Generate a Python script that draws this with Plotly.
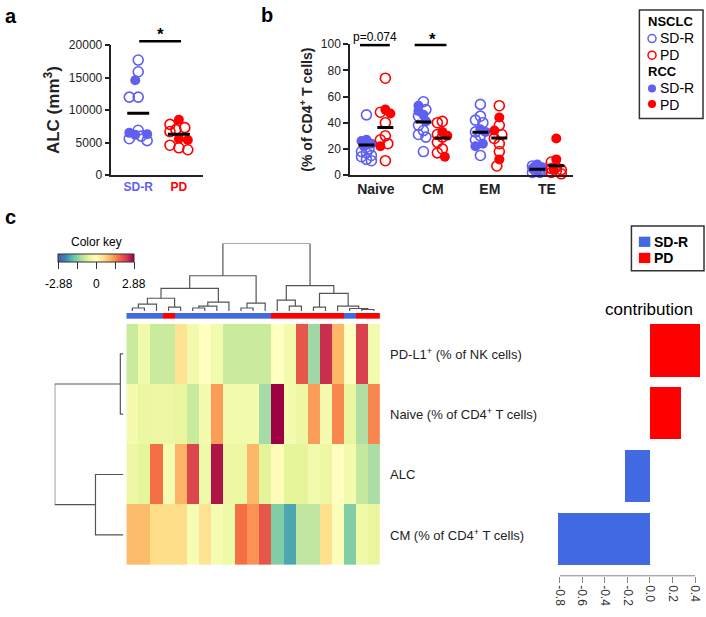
import numpy as np
import plotly.graph_objects as go

W, H = 706, 617

# ---------------- data ----------------
# panel a: ALC (mm3)
alc_sdr_nsclc = [17700, 15900, 12000, 12000, 6900, 6000, 5600, 5300]
alc_sdr_rcc = [14600, 6500, 6300, 6200]
alc_pd_nsclc = [7800, 7300, 7000, 6700, 4600, 4200, 3900]
alc_pd_rcc = [8500, 5600, 5400]
alc_means = [9500, 6300]
alc_ticks = [0, 5000, 10000, 15000, 20000]

# panel b: % of CD4+ T cells
subsets = ["Naive", "CM", "EM", "TE"]
sdr_nsclc = [[46, 20, 18, 17, 15, 14, 12, 11],
             [56, 50, 45, 38, 34, 31, 29, 18],
             [54, 45, 42, 40, 33, 30, 27, 15],
             [7, 6, 5, 4, 4, 3, 2, 2]]
sdr_rcc = [[27, 26, 24, 22],
           [53, 49, 46, 41],
           [35, 33, 24, 22],
           [8, 6, 5, 3]]
pd_nsclc = [[74, 48, 40, 30, 27, 24, 11],
            [41, 40, 31, 29, 25, 20, 17],
            [53, 38, 31, 28, 24, 18, 7],
            [10, 6, 5, 4, 3, 2, 1]]
pd_rcc = [[50, 47, 22],
          [33, 30, 14],
          [44, 34, 12],
          [28, 12, 4]]
sdr_means = [23, 40.6, 32.7, 4.5]
pd_means = [36.4, 28.4, 28.4, 7.2]

# panel c: heatmap (z-scores), columns in dendrogram order
features = ["PD-L1<sup>+</sup> (% of NK cells)", "Naive (% of CD4<sup>+</sup> T cells)",
            "ALC", "CM (% of CD4<sup>+</sup> T cells)"]
z_pdl1 = [-0.85, -0.3, -0.85, -0.85, 0.5, -0.3, 0.0, -0.3, -0.85, -0.85, -0.85,
          -0.85, 0.0, -0.3, 2.0, -1.25, 2.45, 1.05, 0.0, 2.25, -0.3]
z_naive = [-0.25, -0.45, -0.4, -0.4, -0.5, -0.85, -0.25, 1.3, -0.3, -0.3, -0.3,
           -1.2, 2.88, -0.25, -0.4, 1.3, -0.25, 1.5, -0.5, -1.1, 1.5]
z_alc = [-0.4, -0.55, 1.7, -0.2, 1.1, 2.2, -0.35, 2.7, -0.4, -0.4, 1.05, -0.6,
         0.05, -0.55, -0.55, -0.3, -0.4, 0.0, -0.25, -0.9, -1.15]
z_cm = [1.0, 1.0, 0.6, 0.6, 0.6, -0.2, 0.5, -0.2, -0.35, 1.7, 1.4, 2.0, -1.5,
        -2.0, -0.95, -0.95, 0.55, -0.1, -1.5, -0.35, -0.5]
col_response = ["SD-R", "SD-R", "SD-R", "PD", "SD-R", "SD-R", "SD-R", "SD-R", "SD-R",
                "SD-R", "SD-R", "SD-R", "PD", "PD", "PD", "PD", "PD", "PD", "SD-R",
                "PD", "PD"]
# dendrograms: [left, right, merge height]
col_tree = [[[[[[0, 1, 3], 2, 7], [3, 4, 4], 13], [[[5, 6, 3], 7, 5], 8, 9], 23],
             [[9, 10, 3], 11, 8], 36],
            [[12, [13, 14, 5], 11],
             [[15, 16, 4], [17, [18, [19, 20, 1.5], 2.5], 5], 18], 26], 69]
row_tree = [[0, 1, 3], [2, 3, 28], 69]
contribution = [0.45, 0.275, -0.22, -0.81]
contrib_ticks = [-0.8, -0.6, -0.4, -0.2, 0.0, 0.2, 0.4]
key_ticks = [-2.88, -1.44, 0, 1.44, 2.88]

BLUE = "#5f5ff2"
RED = "#ff0000"
ROYAL = "#4169e1"


def px(x):
    return x / W


def py(y):
    return 1 - y / H


def swarm(vals, ppu_y, ppu_x, d, step, wmax):
    # GraphPad-like spreading: avoid overlap when possible, limited width
    vals = np.asarray(vals, float)
    offs = np.zeros(len(vals))
    cands = [0.0]
    k = 1
    while k * step <= wmax + 1e-9:
        cands += [-k * step, k * step]
        k += 1
    placed = []
    for i in np.argsort(-vals):
        y = vals[i] * ppu_y
        best, bestd = None, -1.0
        for c in cands:
            md = min([np.hypot(c - a, y - b) for a, b in placed] or [1e9])
            if md >= d:
                best = c
                break
            if md > bestd:
                bestd, bestc = md, c
        if best is None:
            best = bestc
        placed.append((best, y))
        offs[i] = best / ppu_x
    return offs


def tree_segments(node):
    if isinstance(node, int):
        return float(node), 0.0, []
    left, right, h = node
    xl, hl, sl = tree_segments(left)
    xr, hr, sr = tree_segments(right)
    seg = [(xl, hl), (xl, h), (xr, h), (xr, hr)]
    return (xl + xr) / 2, h, sl + sr + [seg]


def tree_xy(node):
    xs, ys = [], []
    for seg in tree_segments(node)[2]:
        xs += [p[0] for p in seg] + [None]
        ys += [p[1] for p in seg] + [None]
    return xs, ys


fig = go.Figure()

# ---------------- panel a ----------------
a_ppu_y, a_ppu_x = 133 / 20000, 41
for gi, (op, fi, col) in enumerate([(alc_sdr_nsclc, alc_sdr_rcc, BLUE),
                                     (alc_pd_nsclc, alc_pd_rcc, RED)]):
    offs = swarm(op + fi, a_ppu_y, a_ppu_x, d=9, step=3, wmax=9)
    xo = gi + offs
    fig.add_trace(go.Scatter(x=xo[:len(op)], y=op, mode="markers", xaxis="x", yaxis="y",
                             marker=dict(symbol="circle-open", size=10, color=col,
                                         line=dict(width=1.6)),
                             showlegend=False, cliponaxis=False, hoverinfo="skip"))
    fig.add_trace(go.Scatter(x=xo[len(op):], y=fi, mode="markers", xaxis="x", yaxis="y",
                             marker=dict(symbol="circle", size=10, color=col),
                             showlegend=False, cliponaxis=False, hoverinfo="skip"))
    fig.add_trace(go.Scatter(x=[gi - 0.27, gi + 0.27], y=[alc_means[gi]] * 2, mode="lines",
                             xaxis="x", yaxis="y", line=dict(color="black", width=3),
                             showlegend=False, hoverinfo="skip"))

# ---------------- panel b ----------------
b_ppu_y, b_ppu_x = 134 / 100, 57.3
off = 0.166
for opn, fil, col, dx in [(sdr_nsclc, sdr_rcc, BLUE, -off), (pd_nsclc, pd_rcc, RED, off)]:
    xs_o, ys_o, xs_f, ys_f = [], [], [], []
    for ci in range(len(subsets)):
        offs = swarm(opn[ci] + fil[ci], b_ppu_y, b_ppu_x, d=7, step=2.5, wmax=5)
        xo = ci + dx + offs
        xs_o += list(xo[:len(opn[ci])])
        ys_o += opn[ci]
        xs_f += list(xo[len(opn[ci]):])
        ys_f += fil[ci]
    fig.add_trace(go.Scatter(x=xs_o, y=ys_o, mode="markers", xaxis="x2", yaxis="y2",
                             marker=dict(symbol="circle-open", size=10, color=col,
                                         line=dict(width=1.6)),
                             showlegend=False, cliponaxis=False, hoverinfo="skip"))
    fig.add_trace(go.Scatter(x=xs_f, y=ys_f, mode="markers", xaxis="x2", yaxis="y2",
                             marker=dict(symbol="circle", size=10, color=col),
                             showlegend=False, cliponaxis=False, hoverinfo="skip"))

mx, my = [], []
for ci in range(len(subsets)):
    for dx, m in [(-off, sdr_means[ci]), (off, pd_means[ci])]:
        mx += [ci + dx - 0.14, ci + dx + 0.14, None]
        my += [m, m, None]
fig.add_trace(go.Scatter(x=mx, y=my, mode="lines", xaxis="x2", yaxis="y2",
                         line=dict(color="black", width=3), showlegend=False,
                         hoverinfo="skip"))

# ---------------- panel c ----------------
ncol = len(z_pdl1)
fig.add_trace(go.Heatmap(
    z=[z_pdl1, z_naive, z_alc, z_cm], x=list(range(ncol)), y=list(range(4)),
    xaxis="x3", yaxis="y3", colorscale="Spectral_r", zmin=key_ticks[0], zmax=key_ticks[-1],
    hoverinfo="skip",
    colorbar=dict(orientation="h", x=px(93), xanchor="center", y=py(253), yanchor="top",
                  len=76, lenmode="pixels", thickness=8, thicknessmode="pixels",
                  outlinewidth=1, outlinecolor="#333", xpad=0, ypad=0,
                  tickvals=key_ticks, showticklabels=False,
                  ticks="outside", ticklen=7, tickcolor="#333", tickwidth=1.2)))

fig.add_trace(go.Heatmap(
    z=[[1 if r == "PD" else 0 for r in col_response]], x=list(range(ncol)),
    xaxis="x7", yaxis="y7", zmin=0, zmax=1, showscale=False, hoverinfo="skip",
    colorscale=[[0, ROYAL], [0.5, ROYAL], [0.5, RED], [1, RED]]))

cx, cy = tree_xy(col_tree)
fig.add_trace(go.Scatter(x=cx, y=cy, mode="lines", xaxis="x4", yaxis="y4",
                         line=dict(color="#555", width=1.2), showlegend=False,
                         hoverinfo="skip"))
rx, ry = tree_xy(row_tree)
fig.add_trace(go.Scatter(x=ry, y=rx, mode="lines", xaxis="x5", yaxis="y5",
                         line=dict(color="#555", width=1.2), showlegend=False,
                         hoverinfo="skip"))

# contribution bars
for g, col in [("SD-R", ROYAL), ("PD", RED)]:
    idx = [i for i, v in enumerate(contribution) if (v > 0) == (g == "PD")]
    fig.add_trace(go.Bar(x=[contribution[i] for i in idx], y=idx, orientation="h",
                         xaxis="x6", yaxis="y6", marker=dict(color=col, line=dict(width=0)),
                         width=0.83, showlegend=False, hoverinfo="skip"))

# legend keys drawn on a hidden full-page axis (pixel units)
leg_keys = [(651.7, 32.3, "circle-open", BLUE), (651.7, 49.3, "circle-open", RED),
            (651.7, 83.3, "circle", BLUE), (651.7, 99.3, "circle", RED)]
for kx, ky, sym, col in leg_keys:
    mk = dict(symbol=sym, size=8, color=col)
    if sym == "circle-open":
        mk["line"] = dict(width=1.5)
    fig.add_trace(go.Scatter(x=[kx], y=[ky], mode="markers", xaxis="x8", yaxis="y8",
                             marker=mk, showlegend=False, cliponaxis=False,
                             hoverinfo="skip"))

# ---------------- layout ----------------
ax_common = dict(showgrid=False, zeroline=False, showline=True, linecolor="#222",
                 linewidth=1.5)
hid = dict(visible=False, showgrid=False, zeroline=False)
hm_x = [px(123), px(378)]
hm_y = [py(571), py(324)]

fig.update_layout(
    width=W, height=H, margin=dict(l=0, r=0, t=0, b=0),
    paper_bgcolor="white", plot_bgcolor="rgba(0,0,0,0)", showlegend=False,
    font=dict(family="Liberation Sans, Arial, sans-serif", color="#222"),
    xaxis=dict(domain=[px(108), px(200)], range=[-0.66, 1.59], anchor="y",
               tickvals=[0, 1],
               ticktext=['<span style="color:%s"><b>SD-R</b></span>' % BLUE,
                         '<span style="color:%s"><b>PD</b></span>' % RED],
               tickfont=dict(size=12), ticks="", **ax_common),
    yaxis=dict(domain=[py(172), py(39)], range=[0, 20000], anchor="x",
               tickvals=alc_ticks, ticktext=[str(t) for t in alc_ticks],
               ticks="outside", ticklen=5,
               tickwidth=1.5, tickcolor="#222", tickfont=dict(size=12),
               title=dict(text="<b>ALC (mm<sup>3</sup>)</b>", font=dict(size=17),
                          standoff=5), **ax_common),
    xaxis2=dict(domain=[px(348), px(572)], range=[-0.454, 3.455], anchor="y2",
                tickvals=list(range(4)), ticktext=["<b>%s</b>" % s for s in subsets],
                tickfont=dict(size=14), ticks="", **ax_common),
    yaxis2=dict(domain=[py(172), py(38)], range=[0, 100], anchor="x2",
                tickvals=[0, 20, 40, 60, 80, 100], ticks="outside", ticklen=5,
                tickwidth=1.5, tickcolor="#222", tickfont=dict(size=12),
                title=dict(text="<b>(% of CD4<sup>+</sup> T cells)</b>",
                           font=dict(size=14), standoff=5), **ax_common),
    xaxis3=dict(domain=hm_x, range=[-0.5, ncol - 0.5], anchor="y3", **hid),
    yaxis3=dict(domain=hm_y, range=[3.5, -0.5], anchor="x3", **hid),
    xaxis4=dict(domain=hm_x, range=[-0.5, ncol - 0.5], anchor="y4", **hid),
    yaxis4=dict(domain=[py(311), py(242)], range=[0, 69], anchor="x4", **hid),
    xaxis5=dict(domain=[px(51), px(120)], range=[69, 0], anchor="y5", **hid),
    yaxis5=dict(domain=hm_y, range=[3.5, -0.5], anchor="x5", **hid),
    xaxis6=dict(domain=[px(555.6), px(702.9)], range=[-0.83, 0.47], anchor="y6",
                showgrid=False, zeroline=False, showline=False,
                tickvals=contrib_ticks, ticktext=["%.1f" % t for t in contrib_ticks],
                tickangle=90, ticks="outside", ticklen=6, tickcolor="#888",
                tickfont=dict(size=12, color="#333")),
    yaxis6=dict(domain=[py(582), py(319)], range=[3.59, -0.5], anchor="x6", **hid),
    xaxis7=dict(domain=hm_x, range=[-0.5, ncol - 0.5], anchor="y7", **hid),
    yaxis7=dict(domain=[py(319), py(313)], range=[-0.5, 0.5], anchor="x7", **hid),
    xaxis8=dict(domain=[0, 1], range=[0, W], anchor="y8", **hid),
    yaxis8=dict(domain=[0, 1], range=[H, 0], anchor="x8", **hid),
    bargap=0,
)

# contribution axis line (R-style, spans the tick range only)
fig.add_shape(type="line", xref="x6", yref="y6 domain", x0=contrib_ticks[0],
              x1=contrib_ticks[-1], y0=0, y1=0, line=dict(color="#888", width=1))

# significance brackets
for x0, x1, yb in [(136, 178, 35), (358, 388, 39), (413, 445, 39)]:
    fig.add_shape(type="line", xref="paper", yref="paper", x0=px(x0), x1=px(x1),
                  y0=py(yb), y1=py(yb), line=dict(color="black", width=2.5))

# legend boxes and swatches
fig.add_shape(type="rect", xref="paper", yref="paper", x0=px(639), x1=px(703),
              y0=py(3), y1=py(114), line=dict(color="#333", width=1.5))
fig.add_shape(type="rect", xref="paper", yref="paper", x0=px(631), x1=px(704),
              y0=py(224), y1=py(270), line=dict(color="#333", width=1.5))
for y0, col in [(235, ROYAL), (251.5, RED)]:
    fig.add_shape(type="rect", xref="paper", yref="paper", x0=px(638.5), x1=px(650),
                  y0=py(y0), y1=py(y0 + 10.5), line=dict(width=0), fillcolor=col)

anns = [
    dict(text="<b>*</b>", x=157, y=28, size=17),
    dict(text="<b>*</b>", x=431, y=33, size=17),
    dict(text="p=0.074", x=373, y=30.5, size=12),
    dict(text="<b>a</b>", x=7, y=9, size=20),
    dict(text="<b>b</b>", x=264, y=8, size=20),
    dict(text="<b>c</b>", x=7, y=215, size=20),
    dict(text="contribution", x=649, y=310, size=17),
    dict(text="Color key", x=93, y=240, size=12),
    dict(text="-2.88", x=55, y=283, size=12),
    dict(text="0", x=93, y=283, size=12),
    dict(text="2.88", x=131, y=283, size=12),
]
for a in anns:
    fig.add_annotation(text=a["text"], x=px(a["x"]), y=py(a["y"]), xref="paper",
                       yref="paper", xanchor="center", yanchor="middle", showarrow=False,
                       font=dict(size=a["size"], color="black"))

legend_texts = [("<b>NSCLC</b>", 646, 15, 13), ("SD-R", 658, 32, 14), ("PD", 658, 49, 14),
                ("<b>RCC</b>", 646, 66, 13), ("SD-R", 658, 83, 14), ("PD", 658, 100, 14),
                ("<b>SD-R</b>", 652, 240, 14), ("<b>PD</b>", 652, 256.5, 14)]
for t, x, y, s in legend_texts:
    fig.add_annotation(text=t, x=px(x), y=py(y), xref="paper", yref="paper",
                       xanchor="left", yanchor="middle", showarrow=False,
                       font=dict(size=s, color="black"))

for i, f in enumerate(features):
    fig.add_annotation(text=f, x=px(386), xref="paper", y=i, yref="y3", xanchor="left",
                       yanchor="middle", showarrow=False, font=dict(size=13, color="#222"))

fig.write_html("out.html", config={"displayModeBar": False},
               post_script="document.body.style.margin='0px';")
